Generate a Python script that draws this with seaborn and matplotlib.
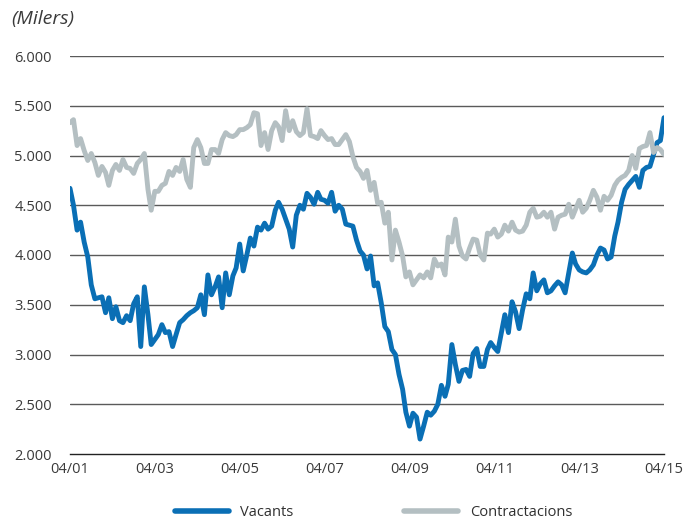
import numpy as np
import pandas as pd
import matplotlib
matplotlib.use("Agg")
import matplotlib.pyplot as plt
import matplotlib.dates as mdates
from matplotlib.lines import Line2D
import seaborn as sns

# Monthly series, April 2001 .. April 2015 (thousands)
vacants = [
    4670, 4500, 4250, 4330, 4130, 3980, 3700, 3560, 3570, 3580,
    3420, 3570, 3360, 3480, 3340, 3320, 3390, 3340, 3510, 3580,
    3080, 3680, 3400, 3100, 3150, 3200, 3300, 3220, 3230, 3080,
    3200, 3320, 3350, 3390, 3420, 3440, 3470, 3600, 3400, 3800,
    3600, 3680, 3780, 3470, 3820, 3600, 3790, 3870, 4110, 3840,
    4000, 4170, 4090, 4280, 4250, 4320, 4260, 4290, 4450, 4530,
    4460, 4360, 4260, 4080, 4400, 4500, 4460, 4620, 4580, 4510,
    4630, 4560, 4550, 4520, 4630, 4440, 4500, 4460, 4310, 4300,
    4290, 4150, 4040, 4000, 3860, 3990, 3690, 3720, 3520, 3280,
    3230, 3050, 3000, 2800, 2650, 2420, 2280, 2410, 2370, 2150,
    2280, 2420, 2390, 2430, 2500, 2690, 2580, 2700, 3100, 2900,
    2730, 2840, 2850, 2780, 3010, 3060, 2880, 2880, 3050, 3120,
    3070, 3030, 3220, 3400, 3220, 3530, 3430, 3260, 3450, 3610,
    3560, 3820, 3640, 3710, 3750, 3620, 3640, 3690, 3730, 3700,
    3620, 3820, 4020, 3910, 3850, 3830, 3820, 3850, 3900, 4000,
    4070, 4050, 3960, 3980, 4190, 4330, 4530, 4660, 4710, 4750,
    4790, 4680, 4850, 4880, 4890, 5010, 5130, 5150, 5380,
]
contractacions = [
    5330, 5360, 5100, 5170, 5050, 4950, 5020, 4930, 4800, 4890,
    4830, 4700, 4850, 4910, 4850, 4960, 4880, 4870, 4820, 4920,
    4960, 5020, 4660, 4450, 4640, 4640, 4700, 4720, 4840, 4800,
    4880, 4840, 4960, 4760, 4680, 5080, 5160, 5080, 4920, 4920,
    5060, 5060, 5020, 5160, 5230, 5200, 5190, 5210, 5260, 5260,
    5280, 5310, 5430, 5420, 5100, 5230, 5060, 5250, 5330, 5290,
    5150, 5450, 5250, 5350, 5240, 5200, 5230, 5470, 5200, 5190,
    5170, 5250, 5200, 5160, 5170, 5110, 5110, 5160, 5210, 5140,
    4990, 4880, 4840, 4770, 4850, 4650, 4730, 4520, 4530, 4320,
    4430, 3950, 4250, 4130, 3990, 3780, 3830, 3700, 3750, 3800,
    3770, 3830, 3770, 3960, 3890, 3910, 3800, 4180, 4130, 4360,
    4090, 3990, 3960, 4070, 4160, 4150, 4000, 3950, 4220, 4210,
    4260, 4180, 4210, 4300, 4240, 4330, 4250, 4230, 4240, 4300,
    4430, 4470, 4380, 4390, 4430, 4380, 4430, 4260, 4380, 4400,
    4410, 4510, 4380, 4460, 4550, 4430, 4470, 4550, 4650, 4580,
    4450, 4590, 4550, 4600, 4700, 4750, 4780, 4800, 4850, 5000,
    4870, 5070, 5090, 5100, 5230, 5030, 5080, 5060, 5010,
]
series_names = ["Vacants", "Contractacions"]
x_tick_labels = ["04/01", "04/03", "04/05", "04/07", "04/09", "04/11", "04/13", "04/15"]
y_ticks = [2000, 2500, 3000, 3500, 4000, 4500, 5000, 5500, 6000]

dates = pd.date_range("2001-04-01", periods=len(vacants), freq="MS")
df = pd.concat([
    pd.DataFrame({"date": dates, "value": vacants, "serie": series_names[0]}),
    pd.DataFrame({"date": dates, "value": contractacions, "serie": series_names[1]}),
])

blue = "#0a6fb5"
grey = "#b4bfc2"
palette = {series_names[0]: blue, series_names[1]: grey}

sns.set_style("white")
plt.rcParams["font.family"] = ["Open Sans", "DejaVu Sans"]

fig = plt.figure(figsize=(6.97, 5.25), dpi=100)
ax = fig.add_axes([70 / 697, 1 - 454 / 525, (664 - 70) / 697, (454 - 56) / 525])

for y in y_ticks[1:]:
    ax.axhline(y, color="#5a5a5a", lw=1.0, zorder=0)

sns.lineplot(data=df, x="date", y="value", hue="serie", palette=palette,
             linewidth=3.5, ax=ax, legend=False, zorder=3)

ax.set_xlim(dates[0], dates[-1])
ax.set_ylim(2000, 6000)
ax.set_yticks(y_ticks)
ax.set_yticklabels([f"{v:,.0f}".replace(",", ".") for v in y_ticks])
tick_dates = pd.date_range("2001-04-01", "2015-04-01", freq="24MS")
ax.set_xticks(tick_dates)
ax.set_xticklabels(x_tick_labels)
ax.set_xlabel("")
ax.set_ylabel("")

for s in ["top", "right", "left"]:
    ax.spines[s].set_visible(False)
ax.spines["bottom"].set_color("#222222")
ax.spines["bottom"].set_linewidth(1.0)
ax.tick_params(axis="y", length=0, pad=13, labelsize=10.5, labelcolor="#3a3a3a")
ax.tick_params(axis="x", direction="in", length=5, width=1.0, color="#222222",
               pad=6, labelsize=10.5, labelcolor="#3a3a3a")

fig.text(11 / 697, 1 - 19 / 525, "(Milers)", fontsize=14, style="italic",
         color="#3a3a3a", va="center", ha="left")

handles = [Line2D([0], [0], color=blue, lw=4), Line2D([0], [0], color=grey, lw=4)]
fig.legend(handles, series_names, loc="center", bbox_to_anchor=(0.536, 1 - 513 / 525),
           ncol=2, frameon=False, handlelength=3.7, handletextpad=0.8,
           columnspacing=7.6, fontsize=10.5, labelcolor="#303030")

fig.savefig("out.png", dpi=100)
